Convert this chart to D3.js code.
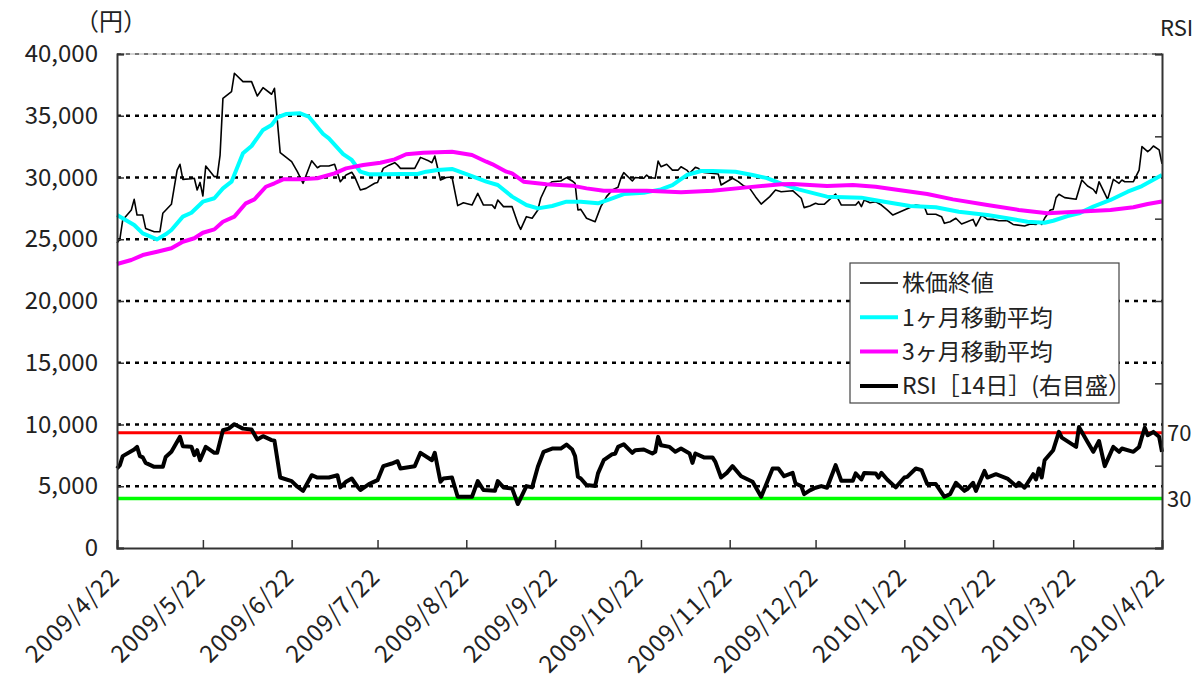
<!DOCTYPE html>
<html>
<head>
  <meta charset="UTF-8">
  <title>株価終値・移動平均・RSI</title>
  <script src="https://d3js.org/d3.v7.min.js"></script>
  <style>
    body { margin: 0; background: #fff; }
    svg { display: block; font-family: "Noto Sans CJK JP", "Noto Sans", sans-serif; }
  </style>
</head>
<body>
  <svg width="1195" height="679"></svg>

  <script>
    // x values are days counted from 2009/4/22
    const closeDays = [0,1,2,5,6,7,9,10,13,15,16,19,21,22,23,26,27,28,29,30,31,34,35,36,37,40,41,44,47,49,51,54,55,57,61,63,65,68,70,71,74,76,78,80,82,83,85,87,90,91,93,95,97,98,99,104,106,109,110,111,113,115,117,119,121,124,126,128,131,132,133,135,138,140,141,143,145,147,148,150,152,155,157,159,160,161,162,164,167,169,171,173,175,176,177,180,181,184,185,186,188,189,190,192,194,196,197,199,200,202,203,205,210,211,215,217,219,221,223,225,228,230,232,236,239,240,242,244,245,247,250,251,253,256,258,259,260,261,263,265,267,269,271,275,279,282,283,286,288,289,291,293,295,297,299,300,302,304,306,308,311,313,317,319,321,322,323,324,326,327,328,329,331,335,337,339,341,342,343,346,348,350,351,352,355,357,358,360,361,362,364,365];
    const closeValues = [24700,25000,26560,27370,28230,26960,26960,25880,25610,25610,27100,27830,30600,31070,29850,29900,29940,28990,29600,28500,30930,30070,30070,31820,36410,36950,38440,37760,37760,36600,37270,36740,37220,32010,31280,30470,29530,31360,30790,30930,30930,31070,29660,30200,30420,30070,28990,29120,29530,29590,30740,31000,31200,31000,30740,30740,31630,31330,31200,31740,29800,30000,30040,27720,27960,27770,28720,27770,27770,27500,28180,27640,27640,26290,25800,26830,26700,27370,28320,29310,29660,29720,29990,29720,29530,27370,27420,26700,26420,27640,28450,28990,29210,29940,30390,29720,30000,29940,30200,30000,29940,31330,30870,31070,30600,30600,30870,30600,30340,30820,30740,30400,30280,29390,29940,29670,29310,29120,28450,27850,28450,28990,28850,28930,28320,27560,27690,27910,27830,27830,28450,28660,27770,27770,27770,28040,27640,28180,27960,28040,27770,27370,26960,27370,27770,27640,27020,27020,26830,26290,26420,26700,26230,26420,26610,26070,26960,26610,26610,26500,26500,26200,26070,26230,26200,26420,26200,26700,27370,27420,28370,28640,28370,28240,29800,29310,29040,28720,29660,28230,29850,29530,29800,29660,29660,30600,32500,32090,32280,32550,32230,31100];

    const ma1Days = [0,3,6,9,14,17,19,23,26,30,34,37,40,44,47,51,54,56,59,64,67,72,74,79,82,85,88,93,99,105,108,112,117,123,129,133,138,143,147,152,157,162,168,172,177,184,190,194,199,204,208,216,222,227,232,238,248,260,268,277,286,294,304,311,318,324,327,332,336,341,347,353,358,365];
    const ma1Values = [26960,26560,26150,25480,24990,25400,25750,26830,27150,28040,28320,29120,29660,31960,32550,33850,34250,34870,35140,35200,34920,33520,33170,31900,31420,30470,30260,30260,30280,30280,30470,30600,30690,30200,29660,29390,28450,27770,27500,27690,28040,28040,27910,28230,28660,28770,29040,29390,30200,30530,30530,30470,30200,29950,29500,29040,28450,28370,28040,27690,27590,27230,26960,26700,26420,26340,26500,26880,27100,27640,28180,28850,29310,30200];

    const ma3Days = [0,5,9,14,19,23,27,30,34,37,41,45,48,52,55,58,64,70,76,80,86,92,97,101,107,117,124,129,131,136,138,142,150,159,164,170,185,197,208,220,232,236,248,257,265,273,283,292,304,315,325,335,347,355,360,365];
    const ma3Values = [23000,23320,23720,23990,24270,24800,25080,25530,25800,26420,26830,27910,28230,29250,29530,29850,29850,29940,30340,30740,31010,31200,31470,31880,32010,32090,31820,31280,31090,30470,30340,29660,29450,29340,29120,28930,28930,28800,28930,29200,29450,29470,29310,29390,29250,28990,28660,28230,27770,27370,27100,27230,27370,27590,27850,28050];

    const rsiDays = [0,1,2,6,7,8,9,10,13,16,17,19,22,23,26,27,28,29,31,34,35,37,39,41,44,47,49,51,54,55,57,61,63,65,68,70,74,77,78,80,82,84,85,88,91,93,96,98,99,104,106,110,111,113,114,117,119,122,124,126,128,132,133,135,138,140,143,145,147,149,152,155,157,159,160,161,162,164,167,168,170,173,174,175,177,180,181,184,187,188,189,190,193,195,197,200,201,202,205,208,209,211,213,215,218,222,225,229,231,233,236,237,239,240,242,244,246,248,251,253,257,258,260,261,265,266,267,269,272,275,276,279,281,283,286,289,291,293,296,297,299,300,303,304,307,311,314,315,317,320,321,322,323,324,327,329,330,335,336,337,339,341,343,345,348,350,351,355,357,358,359,360,362,364,365];
    const rsiValues = [48.3,50.3,55.8,59.8,61.4,55.8,55,51.7,49.3,49.3,55.3,58.4,67.5,61.8,61.5,56.4,59.4,53.3,61.4,57.8,57.8,71.5,72.5,75.2,72.5,71.9,65.9,67.9,65.5,65.1,42.8,40.6,37.2,34.7,44.2,42.8,42.8,44.2,36.8,40.2,42.2,37.2,35.2,38.8,41.2,49.7,51.3,52.7,48.3,49.7,57.8,53.3,57.8,40.2,42.2,42.8,31.1,31.1,31.1,40.6,35.2,34.7,40.6,36.8,36.2,26.7,37.6,36.8,49.3,58.4,60.4,60.4,62.8,59.8,55.8,43.2,42.2,38.2,37.6,45.3,53.3,57,57.2,61.4,63,57.8,59.4,59.8,57.4,58.4,67.5,62.4,61.4,58.4,60.4,57.4,51.7,57.4,55,55,52.3,42.8,45.6,49.7,43.6,40.2,31.1,48.3,48.3,43.6,45.6,39.2,37.6,32.7,35,36.6,37.6,36.6,50.3,40.8,40.8,45.3,41.6,45.6,45.3,42.8,45.6,41.6,36.8,42.8,43.2,48.3,47.3,38.8,38.8,31.1,32.7,39.6,34.7,35.8,39.6,34.7,46.8,42.8,44.8,42.2,37.6,39.6,36.6,44.8,41.6,48.3,42.8,53.3,59.4,70.5,67,61.4,73.5,70.5,64.4,58.4,65,49.7,61.4,58.4,60.4,58.4,61.4,67.5,73.1,68.5,70.5,67.5,58.4];

    const xTickLabels = ["2009/4/22","2009/5/22","2009/6/22","2009/7/22","2009/8/22","2009/9/22","2009/10/22","2009/11/22","2009/12/22","2010/1/22","2010/2/22","2010/3/22","2010/4/22"];
    const yTicks = [0,5000,10000,15000,20000,25000,30000,35000,40000];
    const rsiTicks = [0,50,100,150,200,250,300];
    const rsiLevels = [70, 30];

    const legendItems = [
      { label: "株価終値", color: "#000", width: 1.6 },
      { label: "1ヶ月移動平均", color: "#00ffff", width: 4 },
      { label: "3ヶ月移動平均", color: "#ff00ff", width: 4 },
      { label: "RSI［14日］(右目盛）", color: "#000", width: 4 }
    ];

    const plotLeft = 117, plotRight = 1162, plotTop = 54, plotBottom = 548;
    const startDate = new Date(2009, 3, 22);
    const parseDate = d3.timeParse("%Y/%-m/%-d");
    const toDate = d => d3.timeDay.offset(startDate, d);

    const svg = d3.select("svg");

    const x = d3.scaleTime()
      .domain([startDate, parseDate("2010/4/22")])
      .range([plotLeft, plotRight]);
    const y = d3.scaleLinear().domain([0, 40000]).range([plotBottom, plotTop]);
    const yRsi = d3.scaleLinear().domain([0, 300]).range([plotBottom, plotTop]);

    // dashed gridlines
    svg.append("line")
      .attr("x1", plotLeft).attr("x2", plotRight)
      .attr("y1", plotTop).attr("y2", plotTop)
      .attr("stroke", "#aaa").attr("stroke-width", 1);
    svg.append("g")
      .selectAll("line")
      .data(yTicks.filter(v => v > 0))
      .join("line")
      .attr("x1", plotLeft).attr("x2", plotRight)
      .attr("y1", d => y(d)).attr("y2", d => y(d))
      .attr("stroke", d => d === 40000 ? "#555" : "#000")
      .attr("stroke-width", d => d === 40000 ? 1.5 : 2.5)
      .attr("stroke-dasharray", "4,5");

    // RSI 70 / 30 lines
    svg.append("g")
      .selectAll("line")
      .data(rsiLevels)
      .join("line")
      .attr("x1", plotLeft).attr("x2", plotRight)
      .attr("y1", d => yRsi(d)).attr("y2", d => yRsi(d))
      .attr("stroke", d => d === 70 ? "#ff0000" : "#00ff00")
      .attr("stroke-width", d => d === 70 ? 3 : 3.5);

    const series = [
      { days: rsiDays, values: rsiValues, scale: yRsi, color: "#000", width: 4 },
      { days: closeDays, values: closeValues, scale: y, color: "#000", width: 1.6 },
      { days: ma1Days, values: ma1Values, scale: y, color: "#00ffff", width: 4 },
      { days: ma3Days, values: ma3Values, scale: y, color: "#ff00ff", width: 4 }
    ];

    series.forEach(s => {
      const line = d3.line()
        .x(i => x(toDate(s.days[i])))
        .y(i => s.scale(s.values[i]));
      svg.append("path")
        .attr("d", line(d3.range(s.days.length)))
        .attr("fill", "none")
        .attr("stroke", s.color)
        .attr("stroke-width", s.width)
        .attr("stroke-linejoin", "round");
    });

    // axes
    const axisColor = "#333";
    const leftAxis = svg.append("g")
      .attr("transform", `translate(${plotLeft},0)`)
      .call(d3.axisLeft(y).tickValues(yTicks).tickSize(-7).tickPadding(19)
        .tickFormat(d3.format(",")));
    leftAxis.selectAll("text").attr("font-size", 24).attr("fill", "#222")
      .attr("font-family", "Noto Sans CJK JP");

    const rightAxis = svg.append("g")
      .attr("transform", `translate(${plotRight},0)`)
      .call(d3.axisRight(yRsi).tickValues(rsiTicks).tickSize(-7).tickFormat(""));

    const bottomAxis = svg.append("g")
      .attr("transform", `translate(0,${plotBottom})`)
      .call(d3.axisBottom(x).tickValues(xTickLabels.map(parseDate)).tickSize(-8)
        .tickFormat(d3.timeFormat("%Y/%-m/%-d")));
    bottomAxis.selectAll("text")
      .attr("font-size", 24).attr("fill", "#222")
      .attr("font-family", "Noto Sans CJK JP")
      .attr("letter-spacing", 1)
      .attr("text-anchor", "end")
      .attr("x", -19).attr("y", 24).attr("dy", 0)
      .attr("transform", "rotate(-45)");

    [leftAxis, rightAxis, bottomAxis].forEach(a => {
      a.select(".domain").attr("stroke", axisColor).attr("stroke-width", 2);
      a.selectAll(".tick line").attr("stroke", axisColor).attr("stroke-width", 1.5);
    });

    // RSI level labels on the right
    svg.append("g")
      .selectAll("text")
      .data(rsiLevels)
      .join("text")
      .attr("x", 1167)
      .attr("y", d => yRsi(d) + 8)
      .attr("font-size", 22).attr("fill", "#222")
      .text(d => d);

    svg.append("text")
      .attr("x", 75).attr("y", 30)
      .attr("font-size", 24).attr("fill", "#222")
      .text("（円）");

    svg.append("text")
      .attr("x", 1160).attr("y", 36)
      .attr("font-size", 22).attr("fill", "#222")
      .text("RSI");

    // legend
    const legend = svg.append("g").attr("transform", "translate(850,263)");
    legend.append("rect")
      .attr("width", 269).attr("height", 140)
      .attr("fill", "#fff").attr("stroke", "#444").attr("stroke-width", 1.2);
    const rows = legend.selectAll("g.row")
      .data(legendItems)
      .join("g")
      .attr("class", "row")
      .attr("transform", (d, i) => `translate(0,${20 + i * 34.3})`);
    rows.append("line")
      .attr("x1", 10).attr("x2", 48)
      .attr("stroke", d => d.color)
      .attr("stroke-width", d => d.width);
    rows.append("text")
      .attr("x", 52).attr("dy", "0.36em")
      .attr("font-size", 23).attr("fill", "#222")
      .text(d => d.label);
  </script>
</body>
</html>
